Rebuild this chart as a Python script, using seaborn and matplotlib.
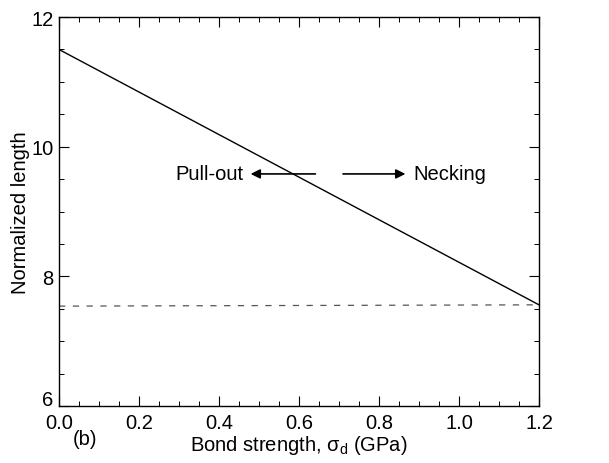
import matplotlib
matplotlib.use("Agg")
import matplotlib.pyplot as plt
import matplotlib.transforms as mtransforms
import seaborn as sns
import pandas as pd
from matplotlib.ticker import MultipleLocator

sns.set_theme(style="ticks")
plt.rcParams['font.family'] = ['Liberation Sans', 'DejaVu Sans']
plt.rcParams['text.color'] = 'black'
plt.rcParams['axes.labelcolor'] = 'black'

bond_strength = [0.0, 1.2]
normalized_length = [11.5, 7.56]
dashed_x = [0.0, 1.2]
dashed_y = [7.54, 7.56]

df_solid = pd.DataFrame({"x": bond_strength, "y": normalized_length})
df_dash = pd.DataFrame({"x": dashed_x, "y": dashed_y})

fig = plt.figure(figsize=(6.09, 4.64), dpi=100)
ax = fig.add_axes([0.097, 0.123, 0.788, 0.838])

sns.lineplot(data=df_solid, x="x", y="y", ax=ax, color="black", linewidth=1.0)
sns.lineplot(data=df_dash, x="x", y="y", ax=ax, color="#555555", linewidth=0.9,
             linestyle=(0, (5, 6)))

ax.set_xlim(0, 1.2)
ax.set_ylim(6, 12)
ax.xaxis.set_major_locator(MultipleLocator(0.2))
ax.xaxis.set_minor_locator(MultipleLocator(0.05))
ax.yaxis.set_major_locator(MultipleLocator(2))
ax.yaxis.set_minor_locator(MultipleLocator(0.5))
ax.xaxis.set_major_formatter(matplotlib.ticker.FormatStrFormatter('%.1f'))
ax.tick_params(which='both', direction='in', top=True, right=True, colors='black',
               labelsize=14.5)
ax.tick_params(axis='x', pad=5)
ax.tick_params(axis='y', pad=4)
ax.tick_params(which='major', length=7, width=0.8)
ax.tick_params(which='minor', length=3.5, width=0.7)
for s in ax.spines.values():
    s.set_color('black')
    s.set_linewidth(1.0)

ax.set_xlabel("Bond strength, σ$_\\mathregular{d}$ (GPa)", fontsize=14.5, labelpad=1)
ax.set_ylabel("Normalized length", fontsize=14.5, labelpad=1)

ax.annotate("", xy=(0.472, 9.58), xytext=(0.648, 9.58),
            arrowprops=dict(arrowstyle="-|>", color="black", lw=1.2, mutation_scale=14))
ax.annotate("", xy=(0.873, 9.58), xytext=(0.703, 9.58),
            arrowprops=dict(arrowstyle="-|>", color="black", lw=1.2, mutation_scale=14))
ax.text(0.46, 9.58, "Pull-out", ha="right", va="center", fontsize=14.5)
ax.text(0.885, 9.58, "Necking", ha="left", va="center", fontsize=14.5)

fig.text(85/609, 1 - 440/464, "(b)", ha="center", va="center", fontsize=14.5)

fig.canvas.draw()
for lab in ax.get_yticklabels():
    if lab.get_text() == "6":
        lab.set_verticalalignment("bottom")
        lab.set_transform(lab.get_transform() +
                          mtransforms.ScaledTranslation(0, -2/72, fig.dpi_scale_trans))

fig.savefig("out.png", dpi=100)
